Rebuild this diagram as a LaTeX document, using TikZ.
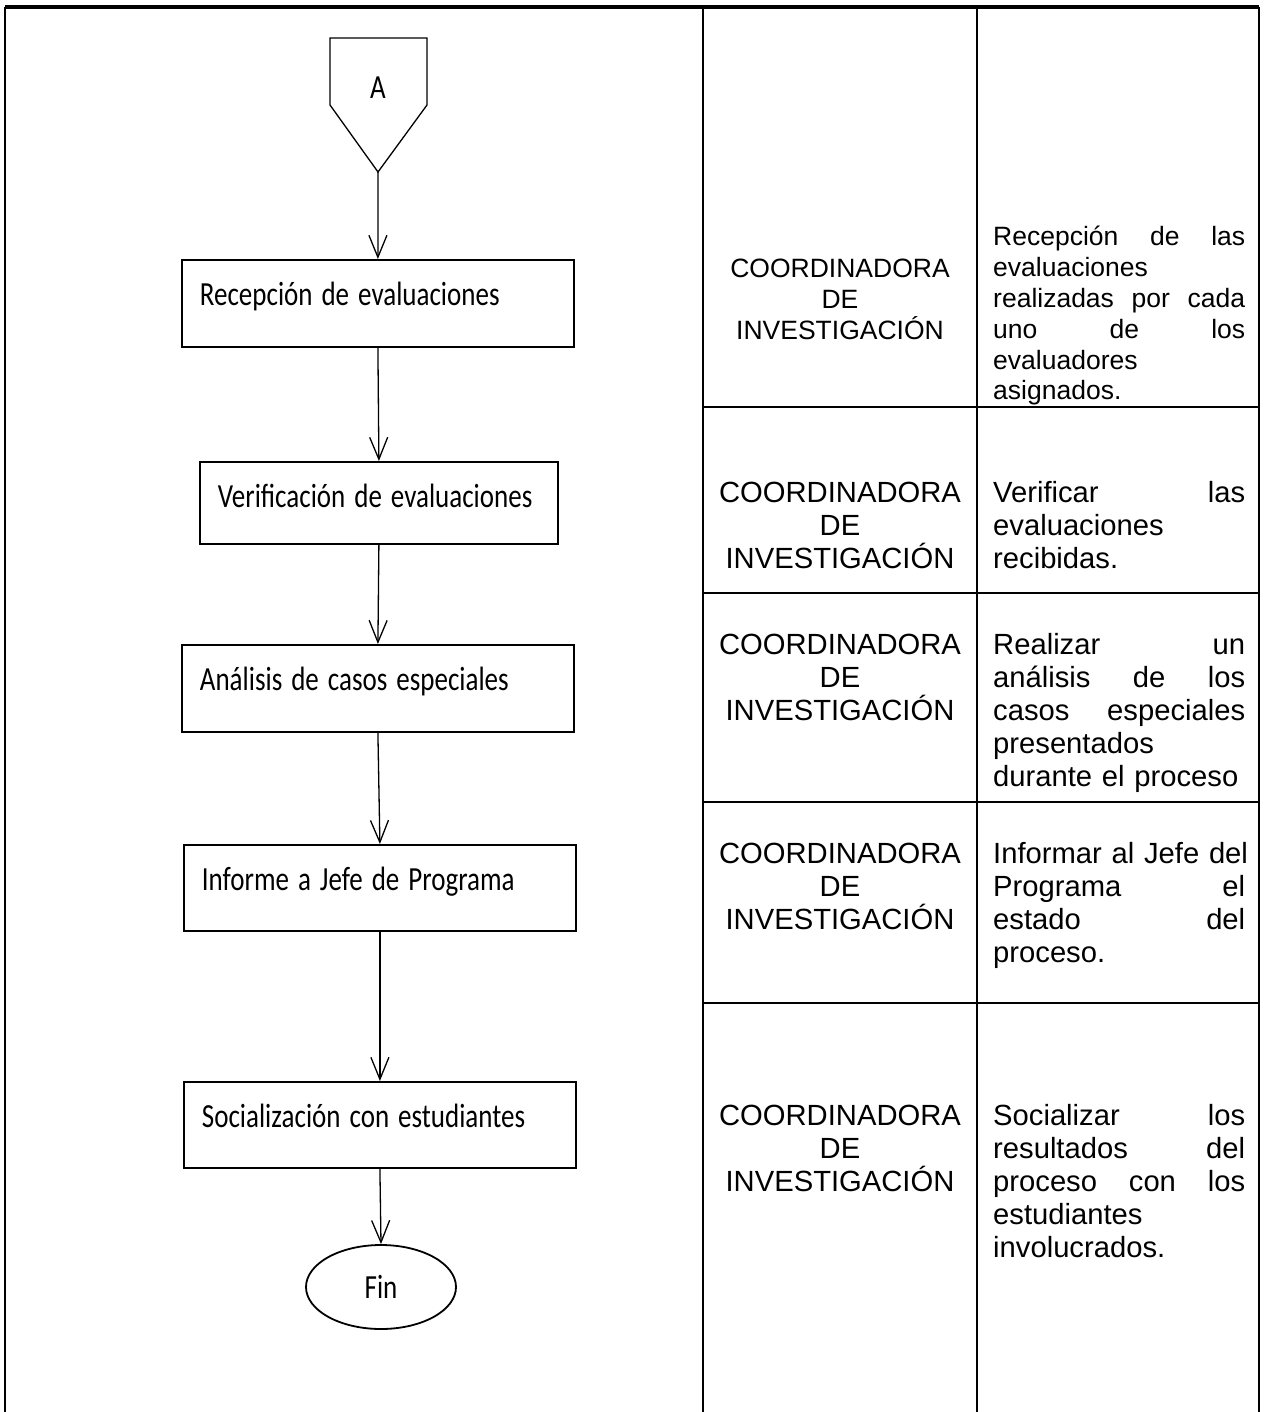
\documentclass[tikz,border=0pt]{standalone}
\usepackage{fontspec}
\usepackage{graphicx}
\setmainfont{Liberation Sans}
\newfontfamily\calibri{Carlito}
\usetikzlibrary{arrows.meta,shapes.geometric}
\newcommand{\alto}[1]{\scalebox{1}[1.25]{#1}}
\newcommand{\letraA}{\fontsize{29.2}{33}\selectfont}
\newcommand{\letraB}{\fontsize{26.5}{30.8}\selectfont}

\begin{document}
\begin{tikzpicture}[x=1pt, y=-1pt, >={Straight Barb[length=22pt,width=18pt]},
    paso/.style={draw, line width=1.8pt, anchor=north west, inner xsep=18pt, inner ysep=0pt,
      text height=46pt, align=left, font=\calibri\fontsize{27}{30}\selectfont},
    flecha/.style={->, line width=1.3pt},
    linea/.style={line width=2.6pt},
    cargo/.style={anchor=base, align=center, text width=270pt, inner sep=0pt, font=\letraA},
    tarea/.style={anchor=base west, align=left, text width=252pt, inner sep=0pt, font=\letraA}]
  \def\xL{5}
  \def\xB{703}
  \def\xC{977}
  \def\xR{1259}
  \def\yT{7}
  \def\yF{1412}
  \useasboundingbox (0,0) rectangle (1263,1412);
  % marco de la tabla
  \draw[line width=4pt] (\xL,\yT) -- (\xR,\yT);
  \foreach \x in {\xL,\xB,\xC,\xR} \draw[linea] (\x,\yT) -- (\x,\yF);
  \foreach \y in {407,593,802,1003} \draw[linea] (\xB,\y) -- (\xR,\y);
  % conector A
  \draw[line width=1.3pt] (330,38) -- (427,38) -- (427,105) -- (378,172) -- (330,105) -- cycle;
  \node[font=\calibri\fontsize{27}{30}\selectfont, anchor=base, inner sep=0pt] (conA) at (378,99) {\alto{A}};
  \coordinate (conA-punta) at (378,172);
  % pasos del flujo
  \node[paso, text width=356pt, text depth=41pt] (recep) at (181,259) {\alto{Recepción de evaluaciones}};
  \node[paso, text width=322pt, text depth=36pt] (verif) at (199,461) {\alto{Verificación de evaluaciones}};
  \node[paso, text width=356pt, text depth=41pt] (anal) at (181,644) {\alto{Análisis de casos especiales}};
  \node[paso, text width=356pt, text depth=40pt] (informe) at (183,844) {\alto{Informe a Jefe de Programa}};
  \node[paso, text width=356pt, text depth=40pt] (social) at (183,1081) {\alto{Socialización con estudiantes}};
  \node[ellipse, draw, line width=1.8pt, minimum width=150pt, minimum height=84pt, inner sep=0pt,
    font=\calibri\fontsize{27}{30}\selectfont] (fin) at (381,1287) {\alto{Fin}};
  \draw[flecha] (conA-punta) -- (recep.north);
  \draw[flecha] (recep.south) -- (verif.north);
  \draw[flecha] (verif.south) -- (anal.north);
  \draw[flecha] (anal.south) -- (informe.north);
  \draw[flecha] (informe.south) -- (social.north);
  \draw[flecha] (social.south) -- (fin.north);
  % responsables
  \node[cargo, font=\letraB] (cargo1) at (840,278) {COORDINADORA\\DE\\INVESTIGACIÓN};
  \node[cargo] (cargo2) at (840,502) {COORDINADORA\\DE\\INVESTIGACIÓN};
  \node[cargo] (cargo3) at (840,654) {COORDINADORA\\DE\\INVESTIGACIÓN};
  \node[cargo] (cargo4) at (840,863) {COORDINADORA\\DE\\INVESTIGACIÓN};
  \node[cargo] (cargo5) at (840,1125) {COORDINADORA\\DE\\INVESTIGACIÓN};
  % actividades
  \node[tarea, font=\letraB] (tarea1) at (993,246) {Recepción\hfill de\hfill las\\evaluaciones\\realizadas\hfill por\hfill cada\\uno\hfill de\hfill los\\evaluadores\\asignados.};
  \node[tarea] (tarea2) at (993,502) {Verificar\hfill las\\evaluaciones\\recibidas.};
  \node[tarea] (tarea3) at (993,654) {Realizar\hfill un\\análisis\hfill de\hfill los\\casos\hfill especiales\\presentados\\durante el proceso};
  \node[tarea] (tarea4) at (993,863) {\mbox{Informar al Jefe del}\\Programa\hfill el\\estado\hfill del\\proceso.};
  \node[tarea] (tarea5) at (993,1125) {Socializar\hfill los\\resultados\hfill del\\proceso\hfill con\hfill los\\estudiantes\\involucrados.};
\end{tikzpicture}
\end{document}
